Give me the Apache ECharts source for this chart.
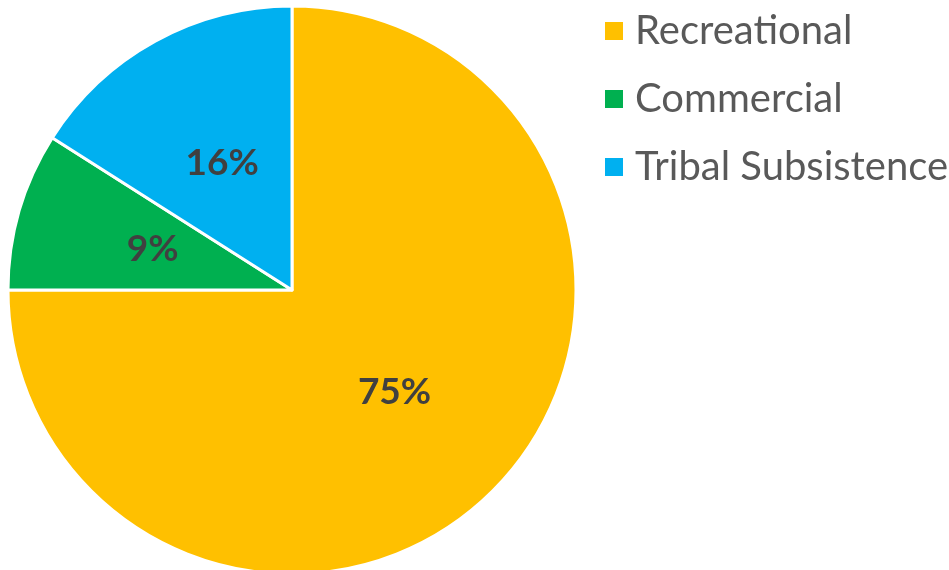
<!DOCTYPE html>
<html>
<head>
<meta charset="utf-8">
<script src="https://cdn.jsdelivr.net/npm/echarts@6/dist/echarts.min.js"></script>
<style>
  html, body { margin: 0; padding: 0; background: #fff; }
  #chart { width: 949px; height: 570px; }
</style>
</head>
<body>
<div id="chart"></div>
<script>
// Harvest share by sector (percent)
const categories = ['Recreational', 'Commercial', 'Tribal Subsistence'];
const shares = [75, 9, 16];
const colors = ['#FFC000', '#00B050', '#00B0F0'];

const chart = echarts.init(document.getElementById('chart'), null, { renderer: 'canvas' });

chart.setOption({
  animation: false,
  color: colors,
  legend: {
    orient: 'vertical',
    left: 598,
    top: 4,
    itemWidth: 20,
    itemHeight: 20,
    itemGap: 24,
    icon: 'rect',
    textStyle: {
      fontFamily: 'Lato',
      fontSize: 40,
      lineHeight: 44,
      color: '#595959',
      padding: [0, 0, 0, 6]
    },
    data: categories
  },
  series: [{
    type: 'pie',
    center: [292, 290],
    radius: 284,
    startAngle: 90,
    clockwise: true,
    label: {
      show: true,
      position: 'inside',
      formatter: '{c}%',
      fontFamily: 'Lato',
      fontWeight: 'bold',
      fontSize: 37,
      color: '#404040'
    },
    labelLine: { show: false },
    itemStyle: { borderColor: '#ffffff', borderWidth: 3 },
    emphasis: { disabled: true },
    data: categories.map((name, i) => ({ name, value: shares[i] }))
  }]
});
</script>
</body>
</html>
